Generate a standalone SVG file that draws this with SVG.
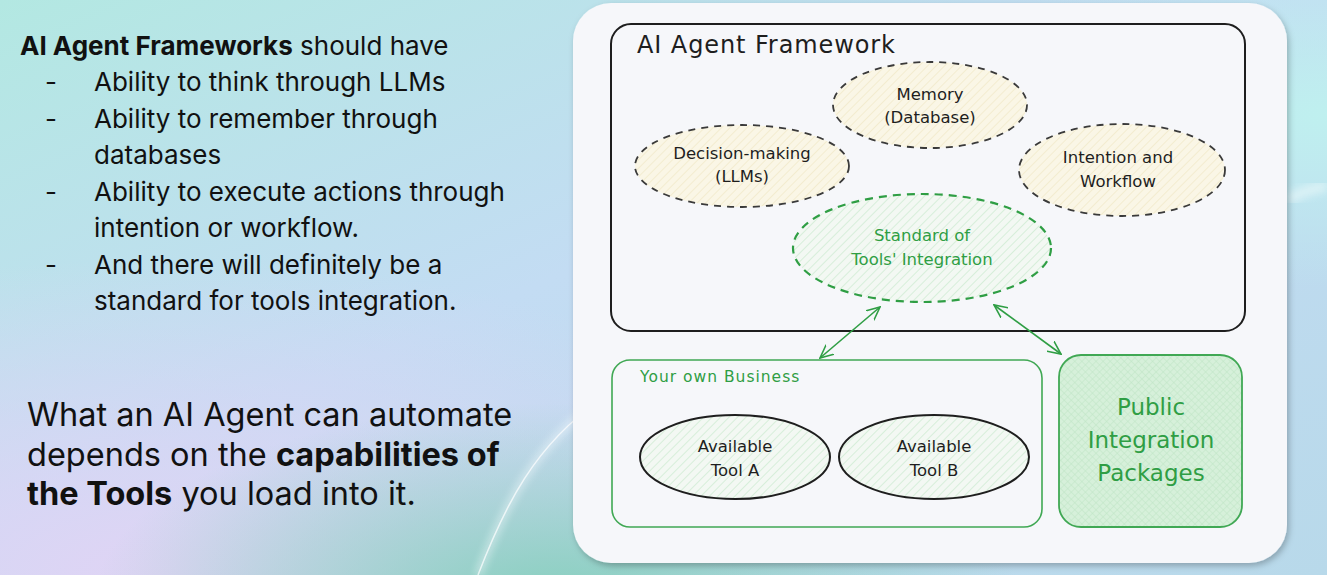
<svg xmlns="http://www.w3.org/2000/svg" width="1327" height="575" viewBox="0 0 1327 575">
<defs>
  <linearGradient id="bgBase" x1="0" y1="0" x2="1" y2="1">
    <stop offset="0" stop-color="#b3e8e2"/>
    <stop offset="0.45" stop-color="#c3dcf3"/>
    <stop offset="1" stop-color="#b8d9ea"/>
  </linearGradient>
  <radialGradient id="lav" cx="0.12" cy="1" r="0.55">
    <stop offset="0" stop-color="#e0d4f5"/>
    <stop offset="1" stop-color="#e0d4f5" stop-opacity="0"/>
  </radialGradient>
  <radialGradient id="teal" cx="0.42" cy="1.05" r="0.35">
    <stop offset="0" stop-color="#86cfbd"/>
    <stop offset="1" stop-color="#86cfbd" stop-opacity="0"/>
  </radialGradient>
  <radialGradient id="cyanR" cx="1" cy="0.2" r="0.3">
    <stop offset="0" stop-color="#bff0ef"/>
    <stop offset="1" stop-color="#bff0ef" stop-opacity="0"/>
  </radialGradient>
  <filter id="shadow" x="-5%" y="-5%" width="110%" height="110%">
    <feDropShadow dx="2" dy="3" stdDeviation="3" flood-color="#000" flood-opacity="0.25"/>
  </filter>
  <filter id="soft" x="-20%" y="-20%" width="140%" height="140%">
    <feGaussianBlur stdDeviation="4"/>
  </filter>
  <pattern id="hatchY" width="6" height="6" patternUnits="userSpaceOnUse" patternTransform="rotate(45)">
    <rect width="6" height="6" fill="#faf6e6"/>
    <line x1="0" y1="0" x2="0" y2="6" stroke="#efe6c2" stroke-width="1.2"/>
  </pattern>
  <pattern id="hatchG" width="6" height="6" patternUnits="userSpaceOnUse" patternTransform="rotate(45)">
    <rect width="6" height="6" fill="#f3f8f3"/>
    <line x1="0" y1="0" x2="0" y2="6" stroke="#c4e8c9" stroke-width="1.2"/>
  </pattern>
  <pattern id="crossG" width="5" height="5" patternUnits="userSpaceOnUse" patternTransform="rotate(45)">
    <rect width="5" height="5" fill="#d6f0da"/>
    <line x1="0" y1="0" x2="0" y2="5" stroke="#bfe5c5" stroke-width="1"/>
    <line x1="0" y1="0" x2="5" y2="0" stroke="#bfe5c5" stroke-width="1"/>
  </pattern>
  <marker id="ah" viewBox="0 0 14 14" refX="13" refY="7" markerWidth="14" markerHeight="14" markerUnits="userSpaceOnUse" orient="auto-start-reverse">
    <path d="M0,1 L13,7 L0,13" fill="none" stroke="#2f9e44" stroke-width="1.6" stroke-linecap="round"/>
  </marker>
  <style>
    .sans{font-family:Inter,"Liberation Sans",sans-serif;fill:#111;}
    .hand{font-family:"DejaVu Sans","Liberation Sans",sans-serif;text-anchor:middle;}
    .dark{fill:#1e1e1e;}
    .green{fill:#2f9e44;}
    .dashDark{stroke:#3a3a3a;stroke-width:1.8;stroke-dasharray:7 6;fill:url(#hatchY);}
    .conn{stroke:#2f9e44;stroke-width:1.6;fill:none;marker-start:url(#ah);marker-end:url(#ah);}
  </style>
</defs>

<!-- background -->
<rect width="1327" height="575" fill="url(#bgBase)"/>
<rect width="1327" height="575" fill="url(#lav)"/>
<rect width="1327" height="575" fill="url(#teal)"/>
<rect width="1327" height="575" fill="url(#cyanR)"/>
<path d="M478,575 C505,505 535,445 600,400" fill="none" stroke="#f7fbff" stroke-width="4" opacity="0.85" filter="url(#soft)"/>
<path d="M478,575 C505,505 535,445 600,400" fill="none" stroke="#ffffff" stroke-width="1.5" opacity="0.7"/>
<path d="M1288,200 C1300,192 1315,188 1327,186" fill="none" stroke="#f1fbfb" stroke-width="10" opacity="0.6" filter="url(#soft)"/>

<!-- left text -->
<g id="text-requirements" class="sans" font-size="26">
  <text x="20" y="55"><tspan font-weight="700">AI Agent Frameworks</tspan> should have</text>
  <text x="45" y="91">-</text><text x="94" y="91">Ability to think through LLMs</text>
  <text x="45" y="128">-</text><text x="94" y="128">Ability to remember through</text>
  <text x="94" y="164">databases</text>
  <text x="45" y="201">-</text><text x="94" y="201">Ability to execute actions through</text>
  <text x="94" y="237">intention or workflow.</text>
  <text x="45" y="274">-</text><text x="94" y="274">And there will definitely be a</text>
  <text x="94" y="310">standard for tools integration.</text>
</g>
<g id="text-conclusion" class="sans" font-size="32.5">
  <text x="27" y="426">What an AI Agent can automate</text>
  <text x="27" y="466">depends on the <tspan font-weight="700">capabilities of</tspan></text>
  <text x="27" y="505"><tspan font-weight="700">the Tools</tspan> you load into it.</text>
</g>

<!-- card -->
<rect id="card" x="573" y="3" width="714" height="560" rx="38" fill="#f6f7fa" filter="url(#shadow)"/>

<!-- AI Agent Framework -->
<g id="framework">
  <rect x="611" y="24" width="634" height="307" rx="20" fill="none" stroke="#1e1e1e" stroke-width="2"/>
  <text x="637" y="53" font-family="DejaVu Sans, Liberation Sans, sans-serif" font-size="24" class="dark" textLength="258" lengthAdjust="spacing">AI Agent Framework</text>
</g>
<g id="memory">
  <ellipse cx="930" cy="105" rx="97" ry="43" class="dashDark"/>
  <text x="930" y="100" font-size="16.5" class="hand dark">Memory</text>
  <text x="930" y="123" font-size="16.5" class="hand dark">(Database)</text>
</g>
<g id="decision">
  <ellipse cx="742" cy="166" rx="107" ry="41" class="dashDark"/>
  <text x="742" y="159" font-size="16.5" class="hand dark">Decision-making</text>
  <text x="742" y="182" font-size="16.5" class="hand dark">(LLMs)</text>
</g>
<g id="intention">
  <ellipse cx="1122" cy="170" rx="103" ry="46" class="dashDark"/>
  <text x="1118" y="163" font-size="16.5" class="hand dark">Intention and</text>
  <text x="1118" y="187" font-size="16.5" class="hand dark">Workflow</text>
</g>
<g id="standard">
  <ellipse cx="922" cy="248" rx="129" ry="54" fill="url(#hatchG)" stroke="#2f9e44" stroke-width="2.2" stroke-dasharray="8 6"/>
  <text x="922" y="241" font-size="16.5" class="hand green">Standard of</text>
  <text x="922" y="265" font-size="16.5" class="hand green">Tools' Integration</text>
</g>

<!-- connectors -->
<g id="connectors">
  <line x1="880" y1="307" x2="820" y2="358" class="conn"/>
  <line x1="994" y1="305" x2="1061" y2="354" class="conn"/>
</g>

<!-- Your own Business -->
<g id="business">
  <rect x="612" y="360" width="430" height="167" rx="18" fill="none" stroke="#40a854" stroke-width="1.6"/>
  <text x="640" y="382" font-family="DejaVu Sans, Liberation Sans, sans-serif" font-size="15.5" class="green" letter-spacing="1">Your own Business</text>
</g>
<g id="toolA">
  <ellipse cx="735" cy="457" rx="95" ry="42" fill="url(#hatchG)" stroke="#1e1e1e" stroke-width="2"/>
  <text x="735" y="452" font-size="16.5" class="hand dark">Available</text>
  <text x="735" y="476" font-size="16.5" class="hand dark">Tool A</text>
</g>
<g id="toolB">
  <ellipse cx="934" cy="457" rx="95" ry="42" fill="url(#hatchG)" stroke="#1e1e1e" stroke-width="2"/>
  <text x="934" y="452" font-size="16.5" class="hand dark">Available</text>
  <text x="934" y="476" font-size="16.5" class="hand dark">Tool B</text>
</g>
<g id="public">
  <rect x="1059" y="355" width="183" height="172" rx="22" fill="url(#crossG)" stroke="#40a854" stroke-width="1.8"/>
  <text x="1151" y="415" font-size="23" class="hand green">Public</text>
  <text x="1151" y="448" font-size="23" class="hand green">Integration</text>
  <text x="1151" y="481" font-size="23" class="hand green">Packages</text>
</g>
</svg>
